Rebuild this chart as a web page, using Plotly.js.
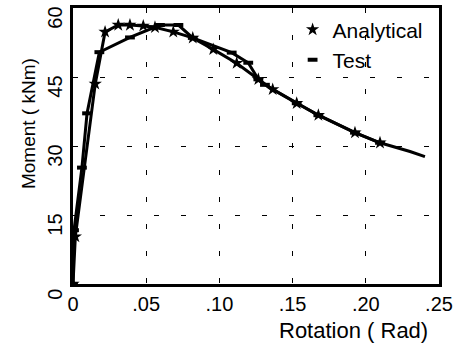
<!DOCTYPE html>
<html><head><meta charset="utf-8">
<script src="https://cdn.plot.ly/plotly-3.0.1.min.js"></script>
<style>html,body{margin:0;padding:0;background:#fff}#chart{width:457px;height:347px}</style>
</head><body><div id="chart"></div>
<script>
// Analytical series (star markers)
const analyticalRotation = [0, 0.0016, 0.0152, 0.0219, 0.0309, 0.0389, 0.0480, 0.0560, 0.0685, 0.0818, 0.0958, 0.1118, 0.1266, 0.1364, 0.1528, 0.1676, 0.1926, 0.2097];
const analyticalMoment   = [0, 10.3, 43.5, 54.8, 56.3, 56.3, 56.1, 55.8, 54.8, 53.5, 51.0, 48.0, 44.5, 42.3, 39.3, 36.7, 32.9, 30.7];
// Analytical curve continues beyond last marked point (line only)
const analyticalTailRotation = [0.2302, 0.2404];
const analyticalTailMoment   = [28.8, 27.7];
// Test series (dash markers)
const testRotation = [0, 0.0007, 0.0061, 0.0096, 0.0180, 0.0389, 0.0594, 0.0720, 0.0818, 0.1084, 0.1197, 0.1266, 0.1311, 0.1528, 0.1676, 0.1926, 0.2097];
const testMoment   = [0, 11.7, 25.3, 37.1, 50.4, 53.6, 56.3, 56.3, 53.5, 50.3, 48.1, 44.5, 43.3, 39.3, 36.7, 32.9, 30.7];
// Axis ticks
const xTickVals = [0, 0.05, 0.10, 0.15, 0.20, 0.25];
const xTickText = ['0', '.05', '.10', '.15', '.20', '.25'];
const yTickVals = [0, 15, 30, 45, 60];
const yTickText = ['0', '15', '30', '45', '60'];
const xTitle = 'Rotation ( Rad)';
const yTitle = 'Moment ( kNm)';

const FONT = '"Liberation Sans", Arial, sans-serif';
const lineStyle = {color: '#000', width: 3};

const traces = [
  {x: analyticalRotation.concat(analyticalTailRotation), y: analyticalMoment.concat(analyticalTailMoment),
   mode: 'lines', line: lineStyle, showlegend: false, hoverinfo: 'skip'},
  {x: testRotation, y: testMoment, mode: 'lines', line: lineStyle, showlegend: false, hoverinfo: 'skip'},
  {x: analyticalRotation, y: analyticalMoment, mode: 'markers', name: 'Analytical',
   marker: {symbol: 'star', size: 10, color: '#000', line: {width: 0}}},
  {x: testRotation, y: testMoment, mode: 'markers', name: 'Test',
   marker: {symbol: 'line-ew', size: 7, color: '#000', line: {width: 4, color: '#000'}}}
];

const yLabelAnnotations = yTickVals.map((v, i) => ({
  text: yTickText[i], xref: 'paper', yref: 'y', x: -0.05, y: v, yshift: -10,
  xanchor: 'center', yanchor: 'middle', textangle: -90, showarrow: false,
  font: {family: FONT, size: 20, color: '#000'}
}));

const layout = {
  width: 457, height: 347,
  margin: {l: 73, r: 18, t: 8, b: 63},
  paper_bgcolor: '#fff', plot_bgcolor: '#fff',
  font: {family: FONT, size: 21, color: '#000'},
  showlegend: true,
  legend: {x: 0.6, y: 0.995, xanchor: 'left', yanchor: 'top', bgcolor: 'rgba(0,0,0,0)',
           font: {family: FONT, size: 21, color: '#000'}, tracegroupgap: 0, itemwidth: 30},
  xaxis: {range: [0, 0.25], tickvals: xTickVals, ticktext: xTickText, ticks: '',
          showline: true, linecolor: '#000', linewidth: 3, mirror: true,
          showgrid: true, gridcolor: '#000', gridwidth: 1, griddash: '5px,22px',
          zeroline: false, tickfont: {family: FONT, size: 20}},
  yaxis: {range: [0, 60], tickvals: yTickVals, showticklabels: false, ticks: '',
          showline: true, linecolor: '#000', linewidth: 3, mirror: true,
          showgrid: true, gridcolor: '#000', gridwidth: 1, griddash: '5px,22px',
          zeroline: false},
  annotations: [
    {text: xTitle, xref: 'paper', yref: 'paper', x: 0.975, y: -0.167, xanchor: 'right', yanchor: 'middle',
     showarrow: false, font: {family: FONT, size: 22, color: '#000'}},
    {text: yTitle, xref: 'paper', yref: 'paper', x: -0.123, y: 0.583, xanchor: 'center', yanchor: 'middle',
     textangle: -90, showarrow: false, font: {family: FONT, size: 19, color: '#000'}}
  ].concat(yLabelAnnotations)
};

Plotly.newPlot('chart', traces, layout, {displayModeBar: false, staticPlot: true});
</script></body></html>
